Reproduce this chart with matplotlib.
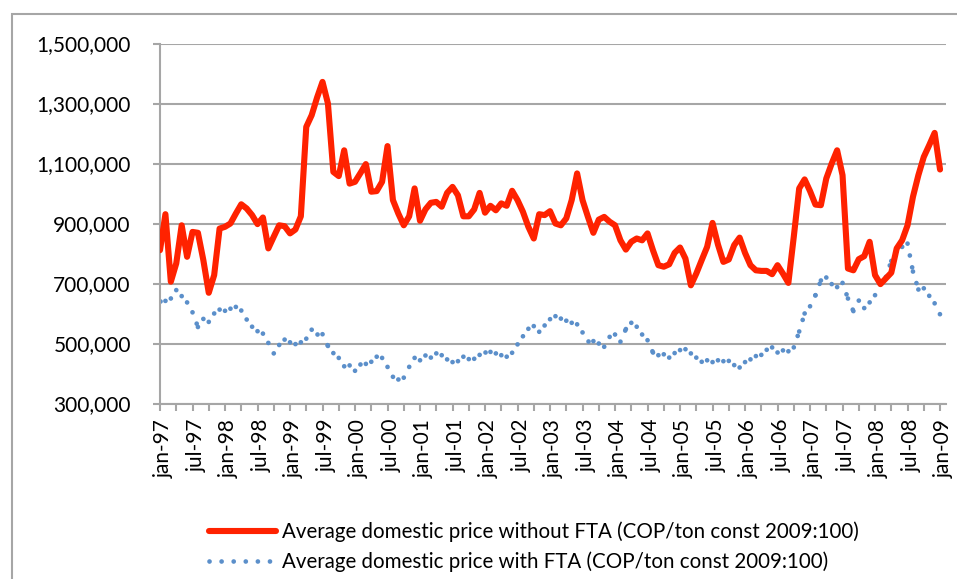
import numpy as np
import matplotlib
matplotlib.use('Agg')
import matplotlib.pyplot as plt
import matplotlib.ticker as mticker
import matplotlib.transforms as mtransforms
from matplotlib.collections import LineCollection
from matplotlib.lines import Line2D
from matplotlib.patches import Rectangle

plt.rcParams['font.family'] = ['Lato', 'DejaVu Sans']

# monthly values jan-97 .. jan-09, thousands of COP/ton (const 2009:100)
without_fta = [811, 931, 706, 767, 894, 789, 872, 869, 778, 669,
               728, 883, 889, 900, 933, 964, 950, 928, 898, 920,
               817, 856, 894, 891, 867, 880, 924, 1222, 1261, 1320,
               1372, 1300, 1072, 1058, 1144, 1033, 1039, 1068, 1098, 1006,
               1008, 1039, 1158, 978, 933, 894, 924, 1017, 909, 947,
               969, 972, 956, 1002, 1022, 994, 924, 924, 947, 1002,
               936, 959, 944, 967, 959, 1009, 978, 939, 889, 850,
               931, 928, 941, 900, 894, 917, 978, 1067, 978, 922,
               869, 913, 922, 906, 894, 844, 813, 839, 850, 844,
               867, 811, 761, 756, 764, 802, 820, 783, 694, 733,
               778, 822, 902, 830, 772, 780, 828, 853, 802, 761,
               744, 742, 742, 731, 761, 733, 702, 856, 1017, 1047,
               1008, 963, 961, 1050, 1100, 1144, 1061, 750, 744, 781,
               791, 839, 728, 698, 717, 736, 817, 844, 894, 989,
               1061, 1122, 1161, 1202, 1080]

with_fta = [642, 642, 650, 678, 658, 637, 604, 555, 582, 572,
            600, 613, 609, 616, 622, 610, 580, 556, 541, 533,
            502, 467, 495, 513, 504, 498, 504, 516, 546, 531,
            531, 492, 468, 452, 424, 427, 409, 430, 432, 439,
            456, 452, 422, 389, 380, 386, 422, 452, 444, 460,
            453, 467, 461, 447, 438, 441, 456, 448, 449, 462,
            472, 472, 467, 461, 456, 469, 497, 524, 549, 558,
            539, 560, 581, 591, 583, 576, 569, 564, 537, 508,
            508, 500, 489, 522, 530, 506, 548, 569, 556, 530,
            511, 470, 461, 464, 453, 468, 478, 481, 467, 453,
            439, 444, 438, 444, 441, 442, 428, 420, 438, 447,
            458, 462, 479, 487, 470, 477, 474, 487, 540, 600,
            624, 661, 710, 720, 698, 688, 702, 650, 608, 643,
            618, 637, 661, 702, 722, 775, 808, 822, 833, 740,
            680, 684, 659, 634, 597]

label_years = [97, 98, 99, 0, 1, 2, 3, 4, 5, 6, 7, 8]
tick_labels = []
for y in label_years:
    tick_labels += ['jan-%02d' % y, 'jul-%02d' % y]
tick_labels.append('jan-09')

name_without = 'Average domestic price without FTA (COP/ton const 2009:100)'
name_with = 'Average domestic price with FTA (COP/ton const 2009:100)'

red = '#FF2200'
blue = '#5B8FCA'
grey = '#A6A6A6'

months = np.arange(len(without_fta))
v_without = np.array(without_fta) * 1000
v_with = np.array(with_fta) * 1000

fig = plt.figure(figsize=(9.57, 5.79), dpi=100)
W, H = 957, 579
ax = fig.add_axes([160 / W, 1 - 403.5 / H, (946 - 160) / W, (403.5 - 43.5) / H])

ax.plot(months, v_without, color=red, lw=4.4, solid_joinstyle='round',
        solid_capstyle='round', zorder=3)

# excel restarts the dot pattern at each segment
dot_lw = 3.4
dot_style = (0, (0.01, 2.55))
segs = [[(months[i], v_with[i]), (months[i + 1], v_with[i + 1])] for i in range(len(months) - 1)]
lc = LineCollection(segs, colors=blue, linewidths=dot_lw, linestyles=[dot_style], zorder=2)
lc.set_capstyle('round')
ax.add_collection(lc)

ax.set_xlim(0, 145.1)
ax.set_ylim(300000, 1500000)
ax.set_yticks(range(300000, 1500001, 200000))
ax.yaxis.set_major_formatter(mticker.FuncFormatter(lambda v, p: '{:,.0f}'.format(v)))
ax.set_xticks(np.arange(0, 145, 6))
ax.set_xticklabels(tick_labels, rotation=90)
ax.set_xticks(np.arange(3, 145, 6), minor=True)

ax.grid(axis='y', color=grey, lw=1.5)
ax.set_axisbelow(True)
for s in ['top', 'right']:
    ax.spines[s].set_visible(False)
for s in ['left', 'bottom']:
    ax.spines[s].set_color(grey)
    ax.spines[s].set_linewidth(1.5)

ax.tick_params(axis='y', length=5, width=1.5, color=grey, pad=16, labelsize=15)
ax.tick_params(axis='x', which='both', length=5, width=1.5, color=grey, pad=6, labelsize=15)

shift = mtransforms.ScaledTranslation(0.04, 0, fig.dpi_scale_trans)
for lab in ax.get_xticklabels():
    lab.set_transform(lab.get_transform() + shift)

h1 = Line2D([], [], color=red, lw=4.4, solid_capstyle='round')
h2 = Line2D([], [], color=blue, lw=dot_lw, linestyle=dot_style, dash_capstyle='round')
fig.legend([h1, h2], [name_without, name_with], loc='upper left',
           bbox_to_anchor=(190 / W, 1 - 503 / H), frameon=False, fontsize=14.8,
           handlelength=3.3, handletextpad=0.3, labelspacing=0.45)

fig.patches.append(Rectangle((12 / W, -0.1), 1.0, 1 - 14 / H + 0.1, transform=fig.transFigure,
                             fill=False, ec=grey, lw=1.5))

fig.savefig('out.png', dpi=100)
